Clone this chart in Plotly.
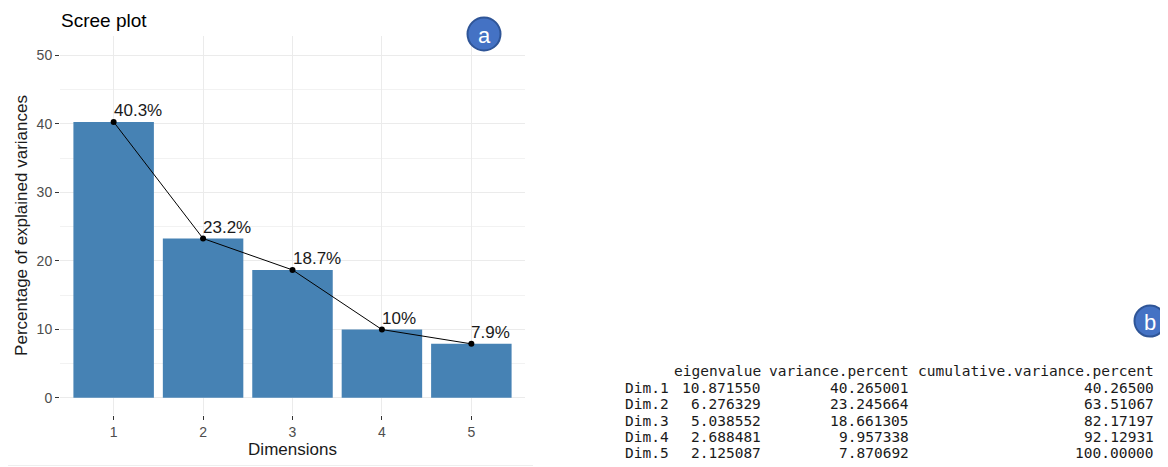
import plotly.graph_objects as go

# ---------------- data ----------------
dimensions = ["1", "2", "3", "4", "5"]
variance_percent = [40.265001, 23.245664, 18.661305, 9.957338, 7.870692]
bar_labels = ["40.3%", "23.2%", "18.7%", "10%", "7.9%"]

row_names = ["Dim.1", "Dim.2", "Dim.3", "Dim.4", "Dim.5"]
eigenvalue = ["10.871550", "6.276329", "5.038552", "2.688481", "2.125087"]
variance_col = ["40.265001", "23.245664", "18.661305", "9.957338", "7.870692"]
cumulative_col = ["40.26500", "63.51067", "82.17197", "92.12931", "100.00000"]
table_headers = ["eigenvalue", "variance.percent", "cumulative.variance.percent"]

y_ticks = [0, 10, 20, 30, 40, 50]

# ---------------- layout geometry ----------------
# the page body has an 8px margin, so the figure is shrunk and everything is
# expressed in window pixel coordinates, then offset.
OFF = 8
W, H = 1168 - OFF, 467 - OFF
L, R, T, B = 60, 525, 36, 415   # panel edges in window pixels


def px(x):
    return (x - L) / (R - L)


def py(y):
    return (B - y) / (B - T)


BAR_COLOR = "#4682B4"
GRID = "#EBEBEB"

fig = go.Figure()
fig.add_trace(go.Bar(
    x=dimensions, y=variance_percent,
    marker=dict(color=BAR_COLOR, line=dict(color=BAR_COLOR, width=0)),
    width=0.9, showlegend=False, hoverinfo="skip",
))
fig.add_trace(go.Scatter(
    x=dimensions, y=variance_percent, mode="lines+markers",
    line=dict(color="#000000", width=1),
    marker=dict(color="#000000", size=6),
    showlegend=False, hoverinfo="skip",
))

annotations = []
for i, (v, lab) in enumerate(zip(variance_percent, bar_labels)):
    annotations.append(dict(
        x=i, y=v, xref="x", yref="y", text=lab, showarrow=False,
        xanchor="left", yanchor="bottom", xshift=-2, yshift=0,
        font=dict(family="Liberation Sans, Arial", size=17, color="#1A1A1A"),
    ))

# title
annotations.append(dict(
    x=px(60), y=py(OFF + 0.5), xref="paper", yref="paper", text="Scree plot",
    showarrow=False, xanchor="left", yanchor="top", borderpad=0,
    font=dict(family="Liberation Sans, Arial", size=19, color="#000000"),
))

# console-style table
mono = dict(family="DejaVu Sans Mono, Liberation Mono, monospace", size=14.5, color="#1A1A1A")
col_right = [763, 911, 1156]
name_left = 623
header_y = 371
row1_y = 388
step = 16.25
for j, htxt in enumerate(table_headers):
    annotations.append(dict(
        x=px(col_right[j]), y=py(header_y), xref="paper", yref="paper", text=htxt,
        showarrow=False, xanchor="right", yanchor="middle", font=mono,
    ))
for i, name in enumerate(row_names):
    yy = py(row1_y + step * i)
    annotations.append(dict(
        x=px(name_left), y=yy, xref="paper", yref="paper", text=name,
        showarrow=False, xanchor="left", yanchor="middle", font=mono,
    ))
    for j, col in enumerate([eigenvalue, variance_col, cumulative_col]):
        annotations.append(dict(
            x=px(col_right[j]), y=yy, xref="paper", yref="paper", text=col[i],
            showarrow=False, xanchor="right", yanchor="middle", font=mono,
        ))

# badges
shapes = []
for letter, cx, cy, r in [("a", 484, 34, 16.5), ("b", 1150, 321, 15.5)]:
    shapes.append(dict(
        type="circle", xref="paper", yref="paper",
        x0=px(cx - r), x1=px(cx + r), y0=py(cy + r), y1=py(cy - r),
        fillcolor="#4472C4", line=dict(color="#2F5597", width=2), layer="above",
    ))
    annotations.append(dict(
        x=px(cx), y=py(cy + 1), xref="paper", yref="paper", text=letter,
        showarrow=False, xanchor="center", yanchor="middle",
        font=dict(family="Liberation Sans, Arial", size=22, color="#FFFFFF"),
    ))

# faint bottom border line under the chart panel
shapes.append(dict(
    type="line", xref="paper", yref="paper",
    x0=px(5), x1=px(533), y0=py(465.5), y1=py(465.5),
    line=dict(color="#EEEEEE", width=1),
))

fig.update_layout(
    width=W, height=H,
    margin=dict(l=L - OFF, r=1168 - R, t=T - OFF, b=467 - B, pad=0),
    paper_bgcolor="#FFFFFF", plot_bgcolor="#FFFFFF",
    bargap=0.1,
    annotations=annotations, shapes=shapes,
    font=dict(family="Liberation Sans, Arial", color="#4D4D4D"),
    xaxis=dict(
        type="category", range=[-0.6, 4.6],
        showgrid=True, gridcolor=GRID, gridwidth=1,
        ticks="outside", ticklen=4, tickcolor="#333333", tickwidth=1,
        tickfont=dict(size=14, color="#4D4D4D"),
        title=dict(text="Dimensions", standoff=4,
                   font=dict(size=17, color="#1A1A1A")),
        zeroline=False, showline=False,
    ),
    yaxis=dict(
        range=[-2.515, 52.81], tickvals=y_ticks,
        showgrid=True, gridcolor=GRID, gridwidth=1,
        minor=dict(dtick=5, tick0=0, showgrid=True, gridcolor="#F2F2F2", gridwidth=1, ticklen=0),
        ticks="outside", ticklen=4, tickcolor="#333333", tickwidth=1,
        tickfont=dict(size=14, color="#4D4D4D"),
        title=dict(text="Percentage of explained variances", standoff=4,
                   font=dict(size=17, color="#1A1A1A")),
        zeroline=False, showline=False,
    ),
)

fig.write_html("out.html")
